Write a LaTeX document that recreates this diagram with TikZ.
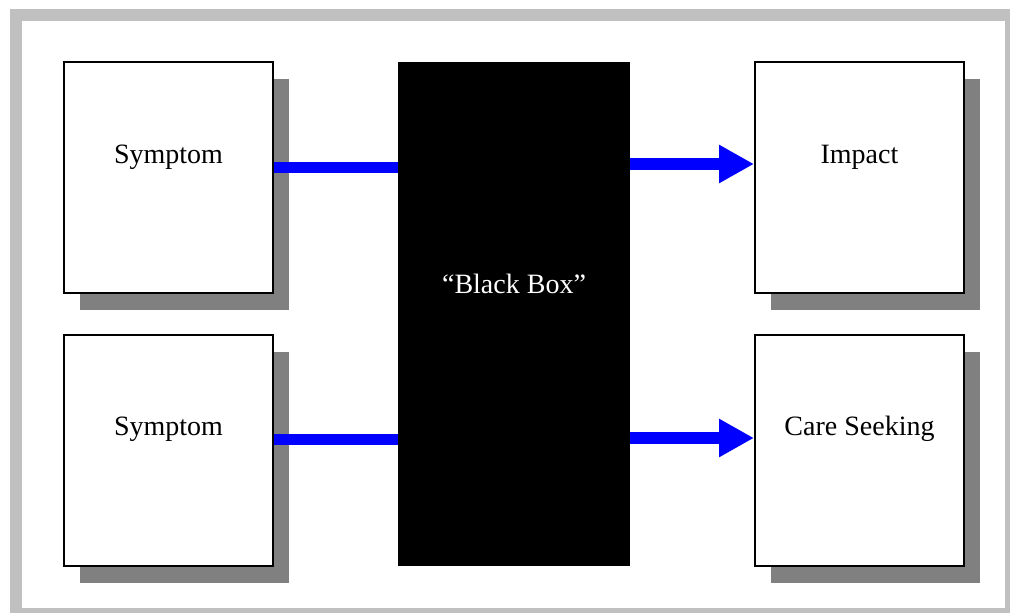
\documentclass[tikz,border=0pt]{standalone}
\usepackage{fontspec}
\setmainfont{Liberation Serif}
\usetikzlibrary{arrows.meta}
\definecolor{framegray}{HTML}{C0C0C0}
\definecolor{shadowgray}{HTML}{808080}
\definecolor{arrowblue}{HTML}{0000FF}
\begin{document}
\begin{tikzpicture}[x=1pt,y=-1pt,
  box/.style={draw=black,line width=2pt,fill=white,minimum width=209pt,minimum height=231pt,inner sep=0pt},
  shadowbox/.style={fill=shadowgray,draw=none,minimum width=209pt,minimum height=231pt,inner sep=0pt},
  lbl/.style={font=\fontsize{28}{33}\selectfont,inner sep=0pt},
  link/.style={draw=arrowblue,line width=11pt},
  arrowlink/.style={draw=arrowblue,line width=12pt,-{Triangle[length=35pt,width=36pt]}}]
\useasboundingbox (0,0) rectangle (1010,613);
\fill[framegray] (10,9) rectangle (1016,619);
\fill[white] (22,21) rectangle (1005,608);
% shadows
\node[shadowbox] (sh1) at (184.5,194.5) {};
\node[shadowbox] (sh2) at (184.5,467.5) {};
\node[shadowbox] (sh3) at (875.5,194.5) {};
\node[shadowbox] (sh4) at (875.5,467.5) {};
% boxes
\node[box] (s1) at (168.5,177.5) {};
\node[box] (s2) at (168.5,450.5) {};
\node[box] (o1) at (859.5,177.5) {};
\node[box] (o2) at (859.5,450.5) {};
\node[fill=black,draw=none,minimum width=232pt,minimum height=504pt,inner sep=0pt] (bb) at (514,314) {};
% labels
\node[lbl] (s1t) at (168.5,157) {Symptom};
\node[lbl] (s2t) at (168.5,429) {Symptom};
\node[lbl] (o1t) at (859.5,157) {Impact};
\node[lbl] (o2t) at (859.5,429) {Care Seeking};
\node[lbl,text=white] (bbt) at (514,284) {“Black Box”};
% connectors
\draw[link] ([yshift=10.5pt]s1.east) -- ([yshift=10.5pt]s1.east -| bb.west);
\draw[link] ([yshift=11.5pt]s2.east) -- ([yshift=11.5pt]s2.east -| bb.west);
\draw[arrowlink] ([yshift=13.5pt]o1.west -| bb.east) -- ([yshift=13.5pt]o1.west);
\draw[arrowlink] ([yshift=12.5pt]o2.west -| bb.east) -- ([yshift=12.5pt]o2.west);
\end{tikzpicture}
\end{document}
